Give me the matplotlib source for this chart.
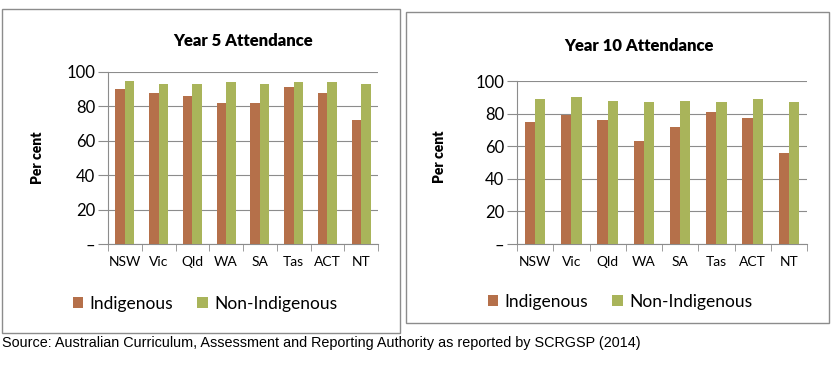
import matplotlib
matplotlib.use("Agg")
import matplotlib.pyplot as plt
from matplotlib.patches import Rectangle

plt.rcParams['font.family'] = ['Lato', 'DejaVu Sans']

# Data
states = ['NSW', 'Vic', 'Qld', 'WA', 'SA', 'Tas', 'ACT', 'NT']
year5_indigenous = [90, 88, 86, 82, 82, 91, 88, 72]
year5_non_indigenous = [95, 93, 93, 94, 93, 94, 94, 93]
year10_indigenous = [75, 79, 76, 63, 72, 81, 77, 56]
year10_non_indigenous = [89, 90, 88, 87, 88, 87, 89, 87]
y_ticks = [0, 20, 40, 60, 80, 100]
y_tick_labels = ['–', '20', '40', '60', '80', '100']

brown = '#B5704A'
green = '#A9B45A'
grey = '#8C8C8C'

W, H = 832, 371
fig = plt.figure(figsize=(W / 100, H / 100), dpi=100)


def fx(px):
    return px / W


def fy(py):
    return 1 - py / H


def draw_panel(rect, box, indig, non_indig, title, title_xy, label_xy, legend_xy):
    # panel frame
    fig.patches.append(Rectangle((fx(box[0]), fy(box[3])), fx(box[2] - box[0]),
                                 (box[3] - box[1]) / H, transform=fig.transFigure,
                                 fill=False, edgecolor=grey, linewidth=1.0))
    ax = fig.add_axes(rect)
    x = list(range(len(states)))
    w = 0.28
    ax.bar([i - w / 2 for i in x], indig, width=w, color=brown, label='Indigenous', zorder=3)
    ax.bar([i + w / 2 for i in x], non_indig, width=w, color=green, label='Non-Indigenous', zorder=3)
    ax.set_xlim(-0.5, len(states) - 0.5)
    ax.set_ylim(0, 100)
    ax.set_yticks(y_ticks)
    ax.set_yticklabels(y_tick_labels, fontsize=12)
    ax.set_xticks(x)
    ax.set_xticklabels(states, fontsize=10)
    ax.set_xticks([i - 0.5 for i in range(len(states) + 1)], minor=True)
    ax.tick_params(axis='x', which='major', length=0, pad=9)
    ax.tick_params(axis='x', which='minor', length=5, color=grey, direction='out')
    ax.tick_params(axis='y', length=7, color=grey, pad=2)
    ax.grid(axis='y', color=grey, linewidth=0.8, zorder=0)
    for s in ['top', 'right']:
        ax.spines[s].set_visible(False)
    for s in ['left', 'bottom']:
        ax.spines[s].set_color(grey)
        ax.spines[s].set_linewidth(0.8)
    fig.text(fx(title_xy[0]), fy(title_xy[1]), title, fontsize=12, fontweight='heavy',
             ha='center', va='center')
    fig.text(fx(label_xy[0]), fy(label_xy[1]), 'Per cent', fontsize=10, fontweight='heavy',
             rotation=90, ha='center', va='center')
    ax.legend(loc='center', bbox_to_anchor=(fx(legend_xy[0]), fy(legend_xy[1])),
              bbox_transform=fig.transFigure, ncol=2, frameon=False, fontsize=12.5,
              handlelength=0.6, handleheight=0.6, handletextpad=0.35, columnspacing=1.4)
    return ax


draw_panel([fx(108), fy(244), fx(378) - fx(108), (244 - 72) / H], (2, 9, 400, 333),
           year5_indigenous, year5_non_indigenous, 'Year 5 Attendance',
           (243, 41), (37, 158), (205, 304))
draw_panel([fx(517), fy(244), fx(807) - fx(517), (244 - 81) / H], (406, 12, 829, 323),
           year10_indigenous, year10_non_indigenous, 'Year 10 Attendance',
           (639, 46), (440, 157), (620, 302))

fig.text(fx(2), fy(343), 'Source: Australian Curriculum, Assessment and Reporting Authority as reported by SCRGSP (2014)',
         fontsize=10.4, family=['Liberation Sans', 'DejaVu Sans'],
         ha='left', va='center')

fig.savefig('out.png', dpi=100)
